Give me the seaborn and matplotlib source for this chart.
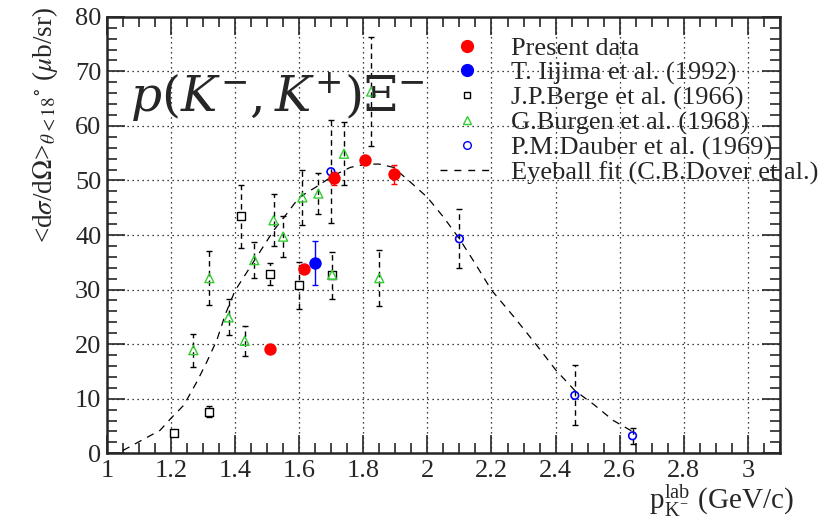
import numpy as np
import pandas as pd
import seaborn as sns
import matplotlib.pyplot as plt
from matplotlib.lines import Line2D
from matplotlib.ticker import MultipleLocator

# Present data
pres_x = [1.51, 1.615, 1.71, 1.805, 1.895]
pres_y = [19.1, 33.7, 50.4, 53.7, 51.1]
pres_e = [0.0, 0.0, 1.2, 0.0, 1.7]

# T. Iijima et al. (1992)
iij_x = [1.65]
iij_y = [34.9]
iij_e = [4.0]

# J.P.Berge et al. (1966)
ber_x = [1.21, 1.32, 1.42, 1.51, 1.60, 1.703]
ber_y = [3.7, 7.6, 43.4, 32.9, 30.8, 32.6]
ber_e = [0.0, 1.0, 5.7, 2.0, 4.3, 4.3]

# G.Burgen et al. (1968)
bur_x = [1.27, 1.32, 1.38, 1.43, 1.46, 1.52, 1.55, 1.61, 1.66, 1.703, 1.74, 1.825, 1.85]
bur_y = [18.9, 32.1, 24.9, 20.6, 35.4, 42.7, 39.7, 46.9, 47.6, 32.7, 54.9, 66.3, 32.1]
bur_e = [3.0, 5.0, 3.3, 2.7, 3.3, 4.8, 3.7, 5.0, 3.8, 0.0, 5.8, 10.0, 5.2]

# P.M.Dauber et al. (1969)
dau_x = [1.699, 2.10, 2.46, 2.64]
dau_y = [51.6, 39.3, 10.6, 3.2]
dau_e = [9.4, 5.4, 5.5, 1.5]

# Eyeball fit (C.B.Dover et al.)
fit_x = [1.05, 1.10, 1.166, 1.20, 1.24, 1.28, 1.31, 1.343, 1.37, 1.40, 1.46, 1.52, 1.56, 1.60,
         1.65, 1.707, 1.76, 1.81, 1.85, 1.894, 1.947, 2.00, 2.05, 2.10, 2.15, 2.20, 2.27,
         2.337, 2.40, 2.46, 2.52, 2.58, 2.625, 2.645]
fit_y = [0.5, 2.1, 4.2, 6.4, 8.8, 13.0, 16.5, 20.7, 25.5, 29.8, 35.3, 40.8, 43.8, 46.9,
         48.7, 50.9, 52.4, 53.0, 53.0, 52.4, 49.7, 46.9, 43.3, 39.3, 34.7, 29.9, 25.0,
         20.1, 15.3, 11.5, 8.9, 6.0, 4.5, 3.8]

labels = ['Present data', 'T. Iijima et al. (1992)', 'J.P.Berge et al. (1966)',
          'G.Burgen et al. (1968)', 'P.M.Dauber et al. (1969)', 'Eyeball fit (C.B.Dover et al.)']

sns.set_style("ticks")
plt.rcParams['font.family'] = ['Liberation Serif', 'DejaVu Serif']
plt.rcParams['mathtext.fontset'] = 'stix'

fig = plt.figure(figsize=(8.28, 5.24), dpi=100)
ax = fig.add_axes([0.129, 0.135, 0.813, 0.833])

# curva de ajuste
sns.lineplot(x=fit_x, y=fit_y, ax=ax, color='black', lw=0.9, sort=False)
ax.lines[-1].set_dashes((6, 5))

def barras(x, y, e, color, ls):
    eb = ax.errorbar(x, y, yerr=e, fmt='none', ecolor=color, elinewidth=1.0, capsize=2.2, capthick=1.0)
    for c in eb[2]:
        c.set_linestyle(ls)

barras(ber_x, ber_y, ber_e, 'black', (0, (4, 3)))
barras(bur_x, bur_y, bur_e, 'black', (0, (4, 3)))
barras(dau_x, dau_y, dau_e, 'black', (0, (4, 3)))
barras(pres_x, pres_y, pres_e, 'red', '-')
barras(iij_x, iij_y, iij_e, 'blue', '-')

sns.scatterplot(x=ber_x, y=ber_y, ax=ax, marker='s', s=34, facecolor='white', edgecolor='black', linewidth=1.0, zorder=5)
sns.scatterplot(x=bur_x, y=bur_y, ax=ax, marker='^', s=42, facecolor='none', edgecolor='#33cc33', linewidth=1.0, zorder=5)
sns.scatterplot(x=dau_x, y=dau_y, ax=ax, marker='o', s=30, facecolor='none', edgecolor='blue', linewidth=1.2, zorder=5)
sns.scatterplot(x=pres_x, y=pres_y, ax=ax, marker='o', s=80, color='red', linewidth=0, zorder=6)
sns.scatterplot(x=iij_x, y=iij_y, ax=ax, marker='o', s=80, color='blue', linewidth=0, zorder=6)

ax.set_xlim(1, 3.1)
ax.set_ylim(0, 80)
ax.xaxis.set_minor_locator(MultipleLocator(0.05))
ax.yaxis.set_major_locator(MultipleLocator(10))
ax.yaxis.set_minor_locator(MultipleLocator(2))
ax.set_xticks(np.arange(1, 3.01, 0.2))
ax.set_xticklabels(['1', '1.2', '1.4', '1.6', '1.8', '2', '2.2', '2.4', '2.6', '2.8', '3'])
ax.tick_params(which='both', direction='in', top=True, right=True, labelsize=19, width=1.2)
ax.tick_params(which='major', length=13)
ax.tick_params(which='minor', length=7)
ax.tick_params(axis='x', pad=5)
ax.tick_params(axis='y', pad=4)
ax.grid(True, which='major', color='black', ls=(0, (1, 3)), lw=0.9)
for s in ax.spines.values():
    s.set_linewidth(1.8)

ax.set_xlabel(r'p$_{\mathregular{K}^{\mathregular{-}}}^{\mathregular{lab}}$ (GeV/c)', fontsize=21, loc='right')
ax.xaxis.set_label_coords(1.02, -0.068)
ax.set_ylabel(r'<d$\sigma$/d$\Omega$>$_{\theta<18}{}^{\circ}$ ($\mu$b/sr)', fontsize=19.5, loc='top')
ax.yaxis.set_label_coords(-0.07, 1.023)

fig.text(0.157, 0.786, r'$p(K^{-},K^{+})\Xi^{-}$', fontsize=35, va='baseline',
         math_fontfamily='dejavuserif', zorder=7)

handles = [
    Line2D([], [], ls='none', marker='o', ms=8.5, color='red'),
    Line2D([], [], ls='none', marker='o', ms=8.5, color='blue'),
    Line2D([], [], ls='none', marker='s', ms=5, mfc='white', mec='black'),
    Line2D([], [], ls='none', marker='^', ms=5.5, mfc='none', mec='#33cc33'),
    Line2D([], [], ls='none', marker='o', ms=5.5, mfc='none', mec='blue'),
    Line2D([], [], color='black', lw=1, ls=(0, (5, 5))),
]
fig.legend(handles, labels, loc='upper left', bbox_to_anchor=(0.531, 0.93), frameon=False,
           fontsize=19, labelspacing=0.04, handlelength=2.1, handletextpad=0.6, borderpad=0,
           borderaxespad=0)

fig.savefig('out.png', dpi=100)
